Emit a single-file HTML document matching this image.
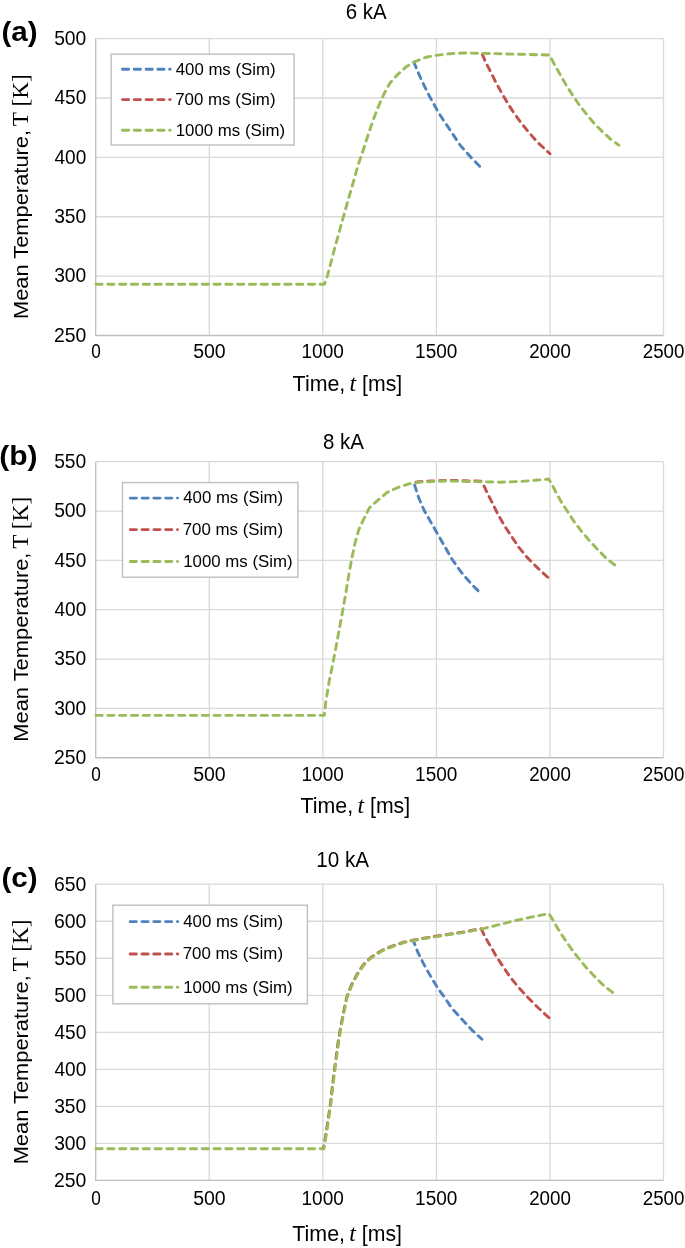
<!DOCTYPE html><html><head><meta charset="utf-8"><style>html,body{margin:0;padding:0;background:#fff;}svg{display:block;will-change:transform;}</style></head><body>
<svg width="685" height="1248" viewBox="0 0 685 1248">
<rect x="0" y="0" width="685" height="1248" fill="#fff"/>
<g><line x1="95.7" y1="276.12" x2="663.5" y2="276.12" stroke="#D9D9D9" stroke-width="1.3"/><line x1="95.7" y1="216.74" x2="663.5" y2="216.74" stroke="#D9D9D9" stroke-width="1.3"/><line x1="95.7" y1="157.36" x2="663.5" y2="157.36" stroke="#D9D9D9" stroke-width="1.3"/><line x1="95.7" y1="97.98" x2="663.5" y2="97.98" stroke="#D9D9D9" stroke-width="1.3"/><line x1="95.7" y1="38.60" x2="663.5" y2="38.60" stroke="#D9D9D9" stroke-width="1.3"/><line x1="95.70" y1="38.60" x2="95.70" y2="335.50" stroke="#BFBFBF" stroke-width="1.3"/><line x1="209.26" y1="38.60" x2="209.26" y2="335.50" stroke="#D9D9D9" stroke-width="1.3"/><line x1="322.82" y1="38.60" x2="322.82" y2="335.50" stroke="#D9D9D9" stroke-width="1.3"/><line x1="436.38" y1="38.60" x2="436.38" y2="335.50" stroke="#D9D9D9" stroke-width="1.3"/><line x1="549.94" y1="38.60" x2="549.94" y2="335.50" stroke="#D9D9D9" stroke-width="1.3"/><line x1="663.50" y1="38.60" x2="663.50" y2="335.50" stroke="#D9D9D9" stroke-width="1.3"/><line x1="95.10000000000001" y1="335.50" x2="663.5" y2="335.50" stroke="#BFBFBF" stroke-width="1.4"/><text x="53.93" y="341.80" font-family="'Liberation Sans', sans-serif" font-size="20.2" textLength="32.33" lengthAdjust="spacingAndGlyphs" fill="#000">250</text><text x="54.17" y="282.42" font-family="'Liberation Sans', sans-serif" font-size="20.2" textLength="32.08" lengthAdjust="spacingAndGlyphs" fill="#000">300</text><text x="54.17" y="223.04" font-family="'Liberation Sans', sans-serif" font-size="20.2" textLength="32.08" lengthAdjust="spacingAndGlyphs" fill="#000">350</text><text x="54.46" y="163.66" font-family="'Liberation Sans', sans-serif" font-size="20.2" textLength="31.78" lengthAdjust="spacingAndGlyphs" fill="#000">400</text><text x="54.46" y="104.28" font-family="'Liberation Sans', sans-serif" font-size="20.2" textLength="31.78" lengthAdjust="spacingAndGlyphs" fill="#000">450</text><text x="54.13" y="44.90" font-family="'Liberation Sans', sans-serif" font-size="20.2" textLength="32.12" lengthAdjust="spacingAndGlyphs" fill="#000">500</text><text x="91.13" y="358.10" font-family="'Liberation Sans', sans-serif" font-size="20.0" textLength="9.54" lengthAdjust="spacingAndGlyphs" fill="#000">0</text><text x="193.18" y="358.10" font-family="'Liberation Sans', sans-serif" font-size="20.0" textLength="32.54" lengthAdjust="spacingAndGlyphs" fill="#000">500</text><text x="301.52" y="358.10" font-family="'Liberation Sans', sans-serif" font-size="20.0" textLength="42.29" lengthAdjust="spacingAndGlyphs" fill="#000">1000</text><text x="415.08" y="358.10" font-family="'Liberation Sans', sans-serif" font-size="20.0" textLength="42.29" lengthAdjust="spacingAndGlyphs" fill="#000">1500</text><text x="529.15" y="358.10" font-family="'Liberation Sans', sans-serif" font-size="20.0" textLength="41.78" lengthAdjust="spacingAndGlyphs" fill="#000">2000</text><text x="642.71" y="358.10" font-family="'Liberation Sans', sans-serif" font-size="20.0" textLength="41.78" lengthAdjust="spacingAndGlyphs" fill="#000">2500</text><text x="345.76" y="18.90" font-family="'Liberation Sans', sans-serif" font-size="21.5" textLength="40.98" lengthAdjust="spacingAndGlyphs" fill="#000">6 kA</text><text x="1.43" y="41.00" font-family="'Liberation Sans', sans-serif" font-size="28.3" font-weight="bold" textLength="36.15" lengthAdjust="spacingAndGlyphs" fill="#000">(a)</text><text x="292.63" y="390.90" font-family="'Liberation Sans', sans-serif" font-size="21.2" textLength="52.67" lengthAdjust="spacingAndGlyphs" fill="#000">Time,</text><text x="349.64" y="390.90" font-family="'Liberation Serif', serif" font-size="22.5" font-style="italic" textLength="6.67" lengthAdjust="spacingAndGlyphs" fill="#000">t</text><text x="362.09" y="390.90" font-family="'Liberation Sans', sans-serif" font-size="21.2" textLength="40.13" lengthAdjust="spacingAndGlyphs" fill="#000">[ms]</text><text transform="rotate(-90)" x="-319.07" y="28.45" font-family="'Liberation Sans', sans-serif" font-size="20.4" textLength="189.10" lengthAdjust="spacingAndGlyphs" fill="#000">Mean Temperature,</text><text transform="rotate(-90)" x="-126.22" y="28.45" font-family="'Liberation Serif', serif" font-size="23" textLength="52.04" lengthAdjust="spacingAndGlyphs" fill="#000">T [K]</text><polyline points="413.8,62.2 421.6,80.3 430.3,97.8 439.1,113.6 449.6,129.3 460.1,145.1 471.7,158.2 482.0,168.6" fill="none" stroke="#4F81BD" stroke-width="2.9" stroke-linecap="round" stroke-linejoin="round" stroke-dasharray="6.2 5.6" stroke-dashoffset="472.23"/><polyline points="481.9,53.3 485.5,61.9 490.7,72.1 495.8,82.3 502.3,94.0 508.2,104.2 514.0,113.0 521.3,123.2 528.6,132.0 537.4,142.2 546.1,150.2 550.0,153.8" fill="none" stroke="#C0504D" stroke-width="2.9" stroke-linecap="round" stroke-linejoin="round" stroke-dasharray="6.2 5.6" stroke-dashoffset="541.60"/><polyline points="96.0,284.2 324.3,284.2 327.4,275.9 335.3,246.0 343.4,216.8 351.3,189.0 358.8,163.0 363.3,150.0 368.2,134.6 373.6,118.8 379.3,104.3 384.2,93.5 390.0,83.0 397.9,74.3 406.7,66.4 413.8,62.2 425.1,57.5 435.6,55.4 449.6,53.7 463.6,53.0 481.9,53.3 500.0,53.8 520.0,54.3 549.5,55.0 554.6,64.8 560.4,75.0 566.3,85.3 572.8,95.5 579.4,105.0 586.7,114.5 594.0,123.2 602.8,132.0 611.5,140.0 618.8,145.1" fill="none" stroke="#9BBB59" stroke-width="2.9" stroke-linecap="round" stroke-linejoin="round" stroke-dasharray="6.2 5.6" stroke-dashoffset="0.00"/><rect x="111.20" y="54.10" width="182.90" height="90.90" fill="#fff" stroke="#BFBFBF" stroke-width="1.4"/><line x1="122.45" y1="69.30" x2="170.15" y2="69.30" stroke="#4F81BD" stroke-width="2.9" stroke-linecap="round" stroke-dasharray="6.2 5.6"/><text x="175.71" y="74.60" font-family="'Liberation Sans', sans-serif" font-size="17" textLength="99.83" lengthAdjust="spacingAndGlyphs" fill="#000">400 ms (Sim)</text><line x1="122.45" y1="99.60" x2="170.15" y2="99.60" stroke="#C0504D" stroke-width="2.9" stroke-linecap="round" stroke-dasharray="6.2 5.6"/><text x="175.23" y="104.90" font-family="'Liberation Sans', sans-serif" font-size="17" textLength="100.31" lengthAdjust="spacingAndGlyphs" fill="#000">700 ms (Sim)</text><line x1="122.45" y1="130.30" x2="170.15" y2="130.30" stroke="#9BBB59" stroke-width="2.9" stroke-linecap="round" stroke-dasharray="6.2 5.6"/><text x="175.72" y="135.60" font-family="'Liberation Sans', sans-serif" font-size="17" textLength="109.32" lengthAdjust="spacingAndGlyphs" fill="#000">1000 ms (Sim)</text></g>
<g><line x1="95.7" y1="708.37" x2="663.5" y2="708.37" stroke="#D9D9D9" stroke-width="1.3"/><line x1="95.7" y1="659.03" x2="663.5" y2="659.03" stroke="#D9D9D9" stroke-width="1.3"/><line x1="95.7" y1="609.70" x2="663.5" y2="609.70" stroke="#D9D9D9" stroke-width="1.3"/><line x1="95.7" y1="560.37" x2="663.5" y2="560.37" stroke="#D9D9D9" stroke-width="1.3"/><line x1="95.7" y1="511.03" x2="663.5" y2="511.03" stroke="#D9D9D9" stroke-width="1.3"/><line x1="95.7" y1="461.70" x2="663.5" y2="461.70" stroke="#D9D9D9" stroke-width="1.3"/><line x1="95.70" y1="461.70" x2="95.70" y2="757.70" stroke="#BFBFBF" stroke-width="1.3"/><line x1="209.26" y1="461.70" x2="209.26" y2="757.70" stroke="#D9D9D9" stroke-width="1.3"/><line x1="322.82" y1="461.70" x2="322.82" y2="757.70" stroke="#D9D9D9" stroke-width="1.3"/><line x1="436.38" y1="461.70" x2="436.38" y2="757.70" stroke="#D9D9D9" stroke-width="1.3"/><line x1="549.94" y1="461.70" x2="549.94" y2="757.70" stroke="#D9D9D9" stroke-width="1.3"/><line x1="663.50" y1="461.70" x2="663.50" y2="757.70" stroke="#D9D9D9" stroke-width="1.3"/><line x1="95.10000000000001" y1="757.70" x2="663.5" y2="757.70" stroke="#BFBFBF" stroke-width="1.4"/><text x="53.93" y="764.00" font-family="'Liberation Sans', sans-serif" font-size="20.2" textLength="32.33" lengthAdjust="spacingAndGlyphs" fill="#000">250</text><text x="54.17" y="714.67" font-family="'Liberation Sans', sans-serif" font-size="20.2" textLength="32.08" lengthAdjust="spacingAndGlyphs" fill="#000">300</text><text x="54.17" y="665.33" font-family="'Liberation Sans', sans-serif" font-size="20.2" textLength="32.08" lengthAdjust="spacingAndGlyphs" fill="#000">350</text><text x="54.46" y="616.00" font-family="'Liberation Sans', sans-serif" font-size="20.2" textLength="31.78" lengthAdjust="spacingAndGlyphs" fill="#000">400</text><text x="54.46" y="566.67" font-family="'Liberation Sans', sans-serif" font-size="20.2" textLength="31.78" lengthAdjust="spacingAndGlyphs" fill="#000">450</text><text x="54.13" y="517.33" font-family="'Liberation Sans', sans-serif" font-size="20.2" textLength="32.12" lengthAdjust="spacingAndGlyphs" fill="#000">500</text><text x="54.13" y="468.00" font-family="'Liberation Sans', sans-serif" font-size="20.2" textLength="32.12" lengthAdjust="spacingAndGlyphs" fill="#000">550</text><text x="91.13" y="780.70" font-family="'Liberation Sans', sans-serif" font-size="20.0" textLength="9.54" lengthAdjust="spacingAndGlyphs" fill="#000">0</text><text x="193.18" y="780.70" font-family="'Liberation Sans', sans-serif" font-size="20.0" textLength="32.54" lengthAdjust="spacingAndGlyphs" fill="#000">500</text><text x="301.52" y="780.70" font-family="'Liberation Sans', sans-serif" font-size="20.0" textLength="42.29" lengthAdjust="spacingAndGlyphs" fill="#000">1000</text><text x="415.08" y="780.70" font-family="'Liberation Sans', sans-serif" font-size="20.0" textLength="42.29" lengthAdjust="spacingAndGlyphs" fill="#000">1500</text><text x="529.15" y="780.70" font-family="'Liberation Sans', sans-serif" font-size="20.0" textLength="41.78" lengthAdjust="spacingAndGlyphs" fill="#000">2000</text><text x="642.71" y="780.70" font-family="'Liberation Sans', sans-serif" font-size="20.0" textLength="41.78" lengthAdjust="spacingAndGlyphs" fill="#000">2500</text><text x="322.91" y="448.60" font-family="'Liberation Sans', sans-serif" font-size="21.5" textLength="41.03" lengthAdjust="spacingAndGlyphs" fill="#000">8 kA</text><text x="-0.80" y="464.60" font-family="'Liberation Sans', sans-serif" font-size="28.3" font-weight="bold" textLength="38.40" lengthAdjust="spacingAndGlyphs" fill="#000">(b)</text><text x="300.53" y="813.20" font-family="'Liberation Sans', sans-serif" font-size="21.2" textLength="52.67" lengthAdjust="spacingAndGlyphs" fill="#000">Time,</text><text x="357.54" y="813.20" font-family="'Liberation Serif', serif" font-size="22.5" font-style="italic" textLength="6.67" lengthAdjust="spacingAndGlyphs" fill="#000">t</text><text x="369.99" y="813.20" font-family="'Liberation Sans', sans-serif" font-size="21.2" textLength="40.13" lengthAdjust="spacingAndGlyphs" fill="#000">[ms]</text><text transform="rotate(-90)" x="-741.67" y="28.45" font-family="'Liberation Sans', sans-serif" font-size="20.4" textLength="189.10" lengthAdjust="spacingAndGlyphs" fill="#000">Mean Temperature,</text><text transform="rotate(-90)" x="-548.82" y="28.45" font-family="'Liberation Serif', serif" font-size="23" textLength="52.04" lengthAdjust="spacingAndGlyphs" fill="#000">T [K]</text><polyline points="414.0,482.6 421.0,481.4 431.1,481.0 445.1,480.4 460.0,480.6 482.0,481.2" fill="none" stroke="#C0504D" stroke-width="2.9" stroke-linecap="round" stroke-linejoin="round" stroke-dasharray="6.2 5.6" stroke-dashoffset="493.69"/><polyline points="414.0,483.2 418.8,498.0 424.1,510.3 431.1,522.6 438.1,534.8 445.1,547.1 452.1,559.3 461.0,571.9 471.5,584.1 480.3,592.9" fill="none" stroke="#4F81BD" stroke-width="2.9" stroke-linecap="round" stroke-linejoin="round" stroke-dasharray="6.2 5.6" stroke-dashoffset="493.69"/><polyline points="482.0,481.8 487.3,493.0 492.6,503.5 497.8,514.1 504.8,526.3 511.8,536.8 518.8,547.3 527.6,557.9 538.1,568.4 549.5,578.9" fill="none" stroke="#C0504D" stroke-width="2.9" stroke-linecap="round" stroke-linejoin="round" stroke-dasharray="6.2 5.6" stroke-dashoffset="561.82"/><polyline points="96.0,715.4 324.3,715.4 325.9,701.0 329.1,681.8 333.0,662.6 336.2,645.9 340.0,625.4 342.6,611.3 346.2,590.8 349.3,572.0 352.4,555.5 355.3,542.0 358.8,529.8 363.6,519.3 369.4,507.8 377.7,500.4 386.9,492.5 397.4,487.7 408.8,483.8 414.0,483.2 421.0,482.0 431.1,481.6 445.1,481.0 460.0,481.2 482.0,481.8 500.0,482.2 520.0,481.5 535.0,480.3 545.1,479.4 548.6,479.0 551.7,484.0 556.1,492.7 561.9,503.0 567.7,511.7 574.3,521.9 581.6,531.4 589.6,540.9 597.7,549.7 606.4,558.4 617.4,567.2" fill="none" stroke="#9BBB59" stroke-width="2.9" stroke-linecap="round" stroke-linejoin="round" stroke-dasharray="6.2 5.6" stroke-dashoffset="0.00"/><rect x="122.50" y="482.60" width="175.40" height="94.60" fill="#fff" stroke="#BFBFBF" stroke-width="1.4"/><line x1="130.25" y1="498.10" x2="177.55" y2="498.10" stroke="#4F81BD" stroke-width="2.9" stroke-linecap="round" stroke-dasharray="6.2 5.6"/><text x="183.21" y="503.40" font-family="'Liberation Sans', sans-serif" font-size="17" textLength="99.83" lengthAdjust="spacingAndGlyphs" fill="#000">400 ms (Sim)</text><line x1="130.25" y1="529.60" x2="177.55" y2="529.60" stroke="#C0504D" stroke-width="2.9" stroke-linecap="round" stroke-dasharray="6.2 5.6"/><text x="182.73" y="534.90" font-family="'Liberation Sans', sans-serif" font-size="17" textLength="100.31" lengthAdjust="spacingAndGlyphs" fill="#000">700 ms (Sim)</text><line x1="130.25" y1="561.50" x2="177.55" y2="561.50" stroke="#9BBB59" stroke-width="2.9" stroke-linecap="round" stroke-dasharray="6.2 5.6"/><text x="183.22" y="566.80" font-family="'Liberation Sans', sans-serif" font-size="17" textLength="109.32" lengthAdjust="spacingAndGlyphs" fill="#000">1000 ms (Sim)</text></g>
<g><line x1="95.7" y1="1143.38" x2="663.5" y2="1143.38" stroke="#D9D9D9" stroke-width="1.3"/><line x1="95.7" y1="1106.35" x2="663.5" y2="1106.35" stroke="#D9D9D9" stroke-width="1.3"/><line x1="95.7" y1="1069.33" x2="663.5" y2="1069.33" stroke="#D9D9D9" stroke-width="1.3"/><line x1="95.7" y1="1032.30" x2="663.5" y2="1032.30" stroke="#D9D9D9" stroke-width="1.3"/><line x1="95.7" y1="995.28" x2="663.5" y2="995.28" stroke="#D9D9D9" stroke-width="1.3"/><line x1="95.7" y1="958.25" x2="663.5" y2="958.25" stroke="#D9D9D9" stroke-width="1.3"/><line x1="95.7" y1="921.23" x2="663.5" y2="921.23" stroke="#D9D9D9" stroke-width="1.3"/><line x1="95.7" y1="884.20" x2="663.5" y2="884.20" stroke="#D9D9D9" stroke-width="1.3"/><line x1="95.70" y1="884.20" x2="95.70" y2="1180.40" stroke="#BFBFBF" stroke-width="1.3"/><line x1="209.26" y1="884.20" x2="209.26" y2="1180.40" stroke="#D9D9D9" stroke-width="1.3"/><line x1="322.82" y1="884.20" x2="322.82" y2="1180.40" stroke="#D9D9D9" stroke-width="1.3"/><line x1="436.38" y1="884.20" x2="436.38" y2="1180.40" stroke="#D9D9D9" stroke-width="1.3"/><line x1="549.94" y1="884.20" x2="549.94" y2="1180.40" stroke="#D9D9D9" stroke-width="1.3"/><line x1="663.50" y1="884.20" x2="663.50" y2="1180.40" stroke="#D9D9D9" stroke-width="1.3"/><line x1="95.10000000000001" y1="1180.40" x2="663.5" y2="1180.40" stroke="#BFBFBF" stroke-width="1.4"/><text x="53.93" y="1186.70" font-family="'Liberation Sans', sans-serif" font-size="20.2" textLength="32.33" lengthAdjust="spacingAndGlyphs" fill="#000">250</text><text x="54.17" y="1149.67" font-family="'Liberation Sans', sans-serif" font-size="20.2" textLength="32.08" lengthAdjust="spacingAndGlyphs" fill="#000">300</text><text x="54.17" y="1112.65" font-family="'Liberation Sans', sans-serif" font-size="20.2" textLength="32.08" lengthAdjust="spacingAndGlyphs" fill="#000">350</text><text x="54.46" y="1075.62" font-family="'Liberation Sans', sans-serif" font-size="20.2" textLength="31.78" lengthAdjust="spacingAndGlyphs" fill="#000">400</text><text x="54.46" y="1038.60" font-family="'Liberation Sans', sans-serif" font-size="20.2" textLength="31.78" lengthAdjust="spacingAndGlyphs" fill="#000">450</text><text x="54.13" y="1001.58" font-family="'Liberation Sans', sans-serif" font-size="20.2" textLength="32.12" lengthAdjust="spacingAndGlyphs" fill="#000">500</text><text x="54.13" y="964.55" font-family="'Liberation Sans', sans-serif" font-size="20.2" textLength="32.12" lengthAdjust="spacingAndGlyphs" fill="#000">550</text><text x="53.92" y="927.53" font-family="'Liberation Sans', sans-serif" font-size="20.2" textLength="32.34" lengthAdjust="spacingAndGlyphs" fill="#000">600</text><text x="53.92" y="890.50" font-family="'Liberation Sans', sans-serif" font-size="20.2" textLength="32.34" lengthAdjust="spacingAndGlyphs" fill="#000">650</text><text x="91.13" y="1204.60" font-family="'Liberation Sans', sans-serif" font-size="20.0" textLength="9.54" lengthAdjust="spacingAndGlyphs" fill="#000">0</text><text x="193.18" y="1204.60" font-family="'Liberation Sans', sans-serif" font-size="20.0" textLength="32.54" lengthAdjust="spacingAndGlyphs" fill="#000">500</text><text x="301.52" y="1204.60" font-family="'Liberation Sans', sans-serif" font-size="20.0" textLength="42.29" lengthAdjust="spacingAndGlyphs" fill="#000">1000</text><text x="415.08" y="1204.60" font-family="'Liberation Sans', sans-serif" font-size="20.0" textLength="42.29" lengthAdjust="spacingAndGlyphs" fill="#000">1500</text><text x="529.15" y="1204.60" font-family="'Liberation Sans', sans-serif" font-size="20.0" textLength="41.78" lengthAdjust="spacingAndGlyphs" fill="#000">2000</text><text x="642.71" y="1204.60" font-family="'Liberation Sans', sans-serif" font-size="20.0" textLength="41.78" lengthAdjust="spacingAndGlyphs" fill="#000">2500</text><text x="316.23" y="866.60" font-family="'Liberation Sans', sans-serif" font-size="21.5" textLength="52.81" lengthAdjust="spacingAndGlyphs" fill="#000">10 kA</text><text x="1.43" y="886.80" font-family="'Liberation Sans', sans-serif" font-size="28.3" font-weight="bold" textLength="36.15" lengthAdjust="spacingAndGlyphs" fill="#000">(c)</text><text x="292.33" y="1240.60" font-family="'Liberation Sans', sans-serif" font-size="21.2" textLength="52.67" lengthAdjust="spacingAndGlyphs" fill="#000">Time,</text><text x="349.34" y="1240.60" font-family="'Liberation Serif', serif" font-size="22.5" font-style="italic" textLength="6.67" lengthAdjust="spacingAndGlyphs" fill="#000">t</text><text x="361.79" y="1240.60" font-family="'Liberation Sans', sans-serif" font-size="21.2" textLength="40.13" lengthAdjust="spacingAndGlyphs" fill="#000">[ms]</text><text transform="rotate(-90)" x="-1164.37" y="28.45" font-family="'Liberation Sans', sans-serif" font-size="20.4" textLength="189.10" lengthAdjust="spacingAndGlyphs" fill="#000">Mean Temperature,</text><text transform="rotate(-90)" x="-971.52" y="28.45" font-family="'Liberation Serif', serif" font-size="23" textLength="52.04" lengthAdjust="spacingAndGlyphs" fill="#000">T [K]</text><polyline points="323.4,1148.4 325.9,1134.1 327.9,1120.5 330.2,1105.5 332.2,1087.8 334.2,1071.4 336.4,1055.1 338.4,1040.1 340.9,1025.7 343.9,1010.6 346.6,997.6 351.2,985.5 356.8,974.6 363.4,964.5 371.4,957.0 382.2,950.2 392.7,945.9 403.7,942.2 412.9,940.2 415.4,939.8 426.9,937.6 438.9,935.8 450.4,933.9 462.2,932.2 473.9,930.0 480.9,928.8" fill="none" stroke="#C0504D" stroke-width="2.9" stroke-linecap="round" stroke-linejoin="round" stroke-dasharray="6.2 5.6" stroke-dashoffset="227.90"/><polyline points="413.3,940.6 418.0,952.6 424.1,964.8 431.1,977.1 438.1,988.5 445.1,998.1 452.1,1008.6 461.0,1018.3 471.5,1029.6 482.0,1039.3" fill="none" stroke="#4F81BD" stroke-width="2.9" stroke-linecap="round" stroke-linejoin="round" stroke-dasharray="6.2 5.6" stroke-dashoffset="473.76"/><polyline points="481.4,929.1 484.0,934.8 488.4,942.7 490.8,946.5 496.1,956.1 503.1,966.6 510.1,977.1 518.8,987.6 527.6,997.2 538.1,1007.7 549.5,1018.3" fill="none" stroke="#C0504D" stroke-width="2.9" stroke-linecap="round" stroke-linejoin="round" stroke-dasharray="6.2 5.6" stroke-dashoffset="542.84"/><polyline points="96.0,1148.7 323.9,1148.7 326.3,1134.4 328.4,1120.8 330.6,1105.8 332.6,1088.1 334.7,1071.7 336.8,1055.4 338.9,1040.4 341.3,1026.0 344.3,1011.0 347.0,998.0 351.6,985.9 357.2,975.0 363.9,964.9 371.8,957.4 382.6,950.6 393.1,946.3 404.1,942.6 413.3,940.6 415.9,940.1 427.3,938.0 439.4,936.1 450.8,934.3 462.6,932.6 474.4,930.4 481.4,929.1 496.1,925.4 513.6,921.0 531.1,917.2 549.0,913.6 553.1,920.4 558.2,929.2 564.8,939.4 571.4,948.9 578.7,958.4 586.0,967.2 594.0,975.9 602.8,984.7 613.7,993.4" fill="none" stroke="#9BBB59" stroke-width="2.9" stroke-linecap="round" stroke-linejoin="round" stroke-dasharray="6.2 5.6" stroke-dashoffset="0.00"/><rect x="112.90" y="905.20" width="194.50" height="98.60" fill="#fff" stroke="#BFBFBF" stroke-width="1.4"/><line x1="130.15" y1="921.60" x2="177.75" y2="921.60" stroke="#4F81BD" stroke-width="2.9" stroke-linecap="round" stroke-dasharray="6.2 5.6"/><text x="183.21" y="926.90" font-family="'Liberation Sans', sans-serif" font-size="17" textLength="99.83" lengthAdjust="spacingAndGlyphs" fill="#000">400 ms (Sim)</text><line x1="130.15" y1="954.00" x2="177.75" y2="954.00" stroke="#C0504D" stroke-width="2.9" stroke-linecap="round" stroke-dasharray="6.2 5.6"/><text x="182.73" y="959.30" font-family="'Liberation Sans', sans-serif" font-size="17" textLength="100.31" lengthAdjust="spacingAndGlyphs" fill="#000">700 ms (Sim)</text><line x1="130.15" y1="987.30" x2="177.75" y2="987.30" stroke="#9BBB59" stroke-width="2.9" stroke-linecap="round" stroke-dasharray="6.2 5.6"/><text x="183.22" y="992.60" font-family="'Liberation Sans', sans-serif" font-size="17" textLength="109.32" lengthAdjust="spacingAndGlyphs" fill="#000">1000 ms (Sim)</text></g>
</svg></body></html>
